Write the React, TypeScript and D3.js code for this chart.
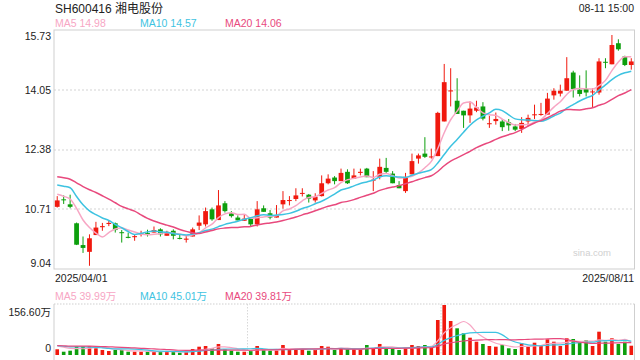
import React from 'react';
import * as d3 from 'd3';

const title = 'SH600416 湘电股份';
const stamp = '08-11 15:00';
const dateLabels = ['2025/04/01', '2025/08/11'];
const yTicks = [15.73, 14.05, 12.38, 10.71, 9.04];
const volMax = 156.6;
const priceMaLegend = [14.98, 14.57, 14.06];
const volMaLegend = [39.99, 45.01, 39.81];
const maPeriods = [5, 10, 20];
const maColors = ['#f7a6c4', '#3ec3e1', '#e8497d'];

const opens = [10.78, 10.99, 10.85, 10.32, 9.71, 9.52, 9.99, 10.21, 10.30, 10.32,
  10.07, 9.94, 9.93, 10.01, 10.05, 10.06, 10.15, 9.97, 10.11, 9.91,
  9.86, 9.95, 10.25, 10.29, 10.71, 10.41, 10.88, 10.60, 10.48, 10.39,
  10.48, 10.29, 10.74, 10.60, 10.48, 10.85, 10.95, 11.00, 11.15, 11.12,
  10.96, 11.08, 11.44, 11.60, 11.50, 11.76, 11.57, 11.73, 11.85, 11.52,
  11.62, 11.87, 11.71, 11.39, 11.22, 11.69, 12.13, 12.27, 12.17, 12.20,
  13.17, 14.01, 13.75, 13.47, 13.34, 13.47, 13.59, 13.10, 13.18, 13.17,
  13.15, 13.03, 12.96, 13.17, 13.35, 13.37, 13.36, 13.90, 13.95, 14.03,
  14.54, 14.06, 14.08, 13.99, 13.98, 14.84, 14.77, 15.36, 14.99, 14.75];
const highs = [11.08, 11.10, 11.12, 10.34, 9.95, 10.01, 10.36, 10.33, 10.41, 10.34,
  10.13, 10.06, 10.01, 10.11, 10.14, 10.23, 10.18, 10.11, 10.15, 10.01,
  9.97, 10.20, 10.54, 10.76, 10.76, 11.25, 10.94, 10.66, 10.54, 10.57,
  10.48, 10.94, 10.82, 10.69, 10.83, 11.22, 11.08, 11.30, 11.30, 11.14,
  11.16, 11.66, 11.69, 11.64, 11.85, 11.83, 11.85, 11.85, 11.87, 11.78,
  12.13, 12.15, 11.78, 11.50, 11.73, 12.27, 12.27, 12.73, 12.41, 13.44,
  14.78, 14.66, 14.38, 13.47, 13.73, 13.75, 13.71, 13.33, 13.42, 13.24,
  13.24, 13.10, 13.29, 13.36, 13.64, 13.69, 13.97, 14.10, 14.20, 14.97,
  14.59, 14.46, 14.60, 14.10, 14.94, 14.94, 15.59, 15.47, 15.01, 14.94];
const lows = [10.76, 10.86, 10.74, 9.71, 9.49, 9.13, 9.99, 10.11, 10.24, 10.06,
  9.78, 9.90, 9.83, 9.95, 9.95, 10.06, 9.95, 9.97, 9.87, 9.87,
  9.78, 9.95, 10.13, 10.23, 10.39, 10.41, 10.62, 10.48, 10.40, 10.39,
  10.23, 10.23, 10.64, 10.43, 10.48, 10.73, 10.82, 10.94, 11.07, 10.90,
  10.90, 11.07, 11.41, 11.41, 11.50, 11.42, 11.57, 11.66, 11.61, 11.22,
  11.55, 11.71, 11.44, 11.30, 11.17, 11.69, 11.99, 12.15, 12.13, 12.20,
  13.17, 13.59, 13.38, 12.99, 13.13, 13.43, 13.20, 12.99, 13.08, 12.90,
  12.91, 12.90, 12.85, 13.03, 13.24, 13.33, 13.36, 13.78, 13.87, 14.03,
  13.84, 13.87, 13.87, 13.57, 13.92, 14.66, 14.77, 15.15, 14.72, 14.62];
const closes = [10.96, 10.97, 10.78, 9.72, 9.63, 9.90, 10.20, 10.24, 10.33, 10.13,
  10.05, 9.91, 9.96, 10.04, 10.03, 10.13, 10.01, 10.08, 9.97, 9.90,
  9.89, 10.15, 10.34, 10.66, 10.43, 10.82, 10.66, 10.52, 10.40, 10.45,
  10.29, 10.71, 10.64, 10.48, 10.54, 10.97, 10.97, 11.10, 11.17, 11.01,
  11.06, 11.44, 11.57, 11.50, 11.73, 11.44, 11.66, 11.76, 11.61, 11.54,
  11.90, 11.76, 11.44, 11.30, 11.62, 12.06, 12.22, 12.18, 12.19, 13.41,
  14.27, 14.04, 13.38, 13.34, 13.53, 13.56, 13.25, 13.12, 13.24, 13.01,
  13.06, 12.94, 13.13, 13.27, 13.37, 13.38, 13.81, 14.03, 14.03, 14.38,
  14.08, 13.94, 13.98, 14.01, 14.85, 14.82, 15.31, 15.19, 14.75, 14.85];
// estimated closes of the 19 sessions before the visible window (for the MA lines)
const priorCloses = [11.50, 11.60, 11.70, 11.75, 11.70, 11.75, 12.05, 12.20, 12.15, 12.10,
  11.30, 11.22, 12.15, 11.98, 11.60, 11.25, 11.15, 11.05, 11.24];
// volumes in 万
const volumes = [17.9, 10.3, 13.5, 28.2, 28.2, 28.2, 21.0, 15.7, 12.5, 15.7,
  15.7, 10.3, 10.3, 10.3, 10.3, 10.3, 10.3, 10.3, 10.3, 7.2,
  10.3, 18.8, 26.0, 28.2, 21.0, 34.5, 17.9, 13.5, 10.3, 10.3,
  15.7, 28.2, 15.7, 13.5, 13.5, 31.3, 17.9, 17.9, 17.9, 13.5,
  17.9, 28.2, 26.0, 15.7, 18.8, 18.8, 18.8, 18.8, 31.3, 21.0,
  34.5, 21.0, 21.0, 15.7, 21.0, 31.3, 28.2, 31.3, 22.9, 109.6,
  156.6, 106.5, 83.6, 68.0, 54.2, 41.7, 34.5, 28.2, 26.0, 31.3,
  21.0, 18.8, 36.6, 26.0, 38.5, 28.2, 49.2, 41.7, 28.2, 52.3,
  50.1, 39.8, 46.0, 28.2, 73.0, 41.7, 52.3, 34.5, 41.7, 29.1];
const priorVolumes = [30, 31, 29, 32, 30, 28, 31, 30, 29, 31,
  30, 32, 30, 29, 31, 30, 32, 31, 30];

const RED = '#f0190e';
const GREEN = '#0d9f0d';
const FONT = "Arial, 'Liberation Sans', 'Noto Sans CJK SC', sans-serif";

function movingAvg(values: number[], prior: number[], n: number): (number | null)[] {
  const all = prior.concat(values);
  const off = prior.length;
  return values.map((_, i) => {
    const j = i + off;
    if (j < n - 1) return null;
    return d3.mean(all.slice(j - n + 1, j + 1)) as number;
  });
}

export default function App() {
  const W = 640, H = 360;
  const L = 54, R = 634.5;
  const mTop = 30, mBot = 269;
  const vTop = 305, vBot = 355;
  const n = closes.length;

  const x = d3.scaleBand<number>().domain(d3.range(n)).range([L, R]).padding(0);
  const step = x.step();
  const cx = (i: number) => (x(i) as number) + step / 2;
  const y = d3.scaleLinear().domain([9.04, 15.73]).range([mBot, mTop]);
  const yv = d3.scaleLinear().domain([0, volMax]).range([vBot, vTop]);

  const bodyW = step * 0.74;
  const barW = step * 0.56;

  const priceMAs = maPeriods.map(p => movingAvg(closes, priorCloses, p));
  const volMAs = maPeriods.map(p => movingAvg(volumes, priorVolumes, p));

  const lineP = d3.line<number | null>()
    .defined(d => d != null)
    .x((_, i) => cx(i))
    .y(d => y(d as number))
    .curve(d3.curveMonotoneX);
  const lineV = d3.line<number | null>()
    .defined(d => d != null)
    .x((_, i) => cx(i))
    .y(d => yv(d as number))
    .curve(d3.curveMonotoneX);

  const labelY = (v: number, i: number) => {
    if (i === 0) return mTop + 9.5;
    if (i === yTicks.length - 1) return mBot - 2.5;
    return y(v) + 3.7;
  };

  return (
    <svg width={W} height={H} style={{ position: 'absolute', left: 0, top: 0, background: '#fff' }}
      fontFamily={FONT}>
      <rect x={0} y={0} width={W} height={H} fill="#fff" />
      <text x={55} y={12.5} fontSize={12} fill="#222">{title}</text>
      <text x={634} y={12} fontSize={10.5} fill="#222" textAnchor="end">{stamp}</text>
      {maPeriods.map((p, k) => (
        <text key={'pl' + p} x={[55, 140, 225][k]} y={27} fontSize={10.5} fill={maColors[k]}>
          {`MA${p} ${priceMaLegend[k].toFixed(2)}`}
        </text>
      ))}

      {/* main panel grid */}
      {yTicks.slice(1, -1).map(v => (
        <line key={'g' + v} x1={L} x2={R} y1={Math.round(y(v))} y2={Math.round(y(v))}
          stroke="#e2e2e2" strokeWidth={1.6} strokeDasharray="2,2" />
      ))}
      <rect x={L} y={mTop} width={R - L} height={mBot - mTop} fill="none" stroke="#cfcfcf" strokeWidth={1} />
      {yTicks.map((v, i) => (
        <text key={'yt' + v} x={51} y={labelY(v, i)} fontSize={10.5} fill="#222" textAnchor="end">
          {v.toFixed(2)}
        </text>
      ))}
      <text x={611} y={256} fontSize={9.5} fill="#d0d0d0" textAnchor="end">sina.com</text>

      {/* candles */}
      {closes.map((c, i) => {
        const o = opens[i];
        const up = c >= o;
        const col = up ? RED : GREEN;
        const top = y(Math.max(o, c));
        const bot = y(Math.min(o, c));
        const h = Math.max(1, bot - top);
        return (
          <g key={'c' + i}>
            <line x1={cx(i)} x2={cx(i)} y1={y(highs[i])} y2={y(lows[i])} stroke={col} strokeWidth={1} />
            <rect x={cx(i) - bodyW / 2} y={top} width={bodyW} height={h} fill={col} />
          </g>
        );
      })}
      {priceMAs.map((d, k) => (
        <path key={'pm' + k} d={lineP(d) || ''} fill="none" stroke={maColors[k]} strokeWidth={1.5} />
      ))}

      {/* date labels */}
      <text x={55} y={282} fontSize={10.5} fill="#222">{dateLabels[0]}</text>
      <text x={634} y={282} fontSize={10.5} fill="#222" textAnchor="end">{dateLabels[1]}</text>

      {/* volume panel */}
      {maPeriods.map((p, k) => (
        <text key={'vl' + p} x={[55, 140, 225][k]} y={299.5} fontSize={10.5} fill={maColors[k]}>
          {`MA${p} ${volMaLegend[k].toFixed(2)}万`}
        </text>
      ))}
      <line x1={L} x2={R} y1={304} y2={304} stroke="#d0d0d0" strokeWidth={1.2} strokeDasharray="1.5,1.5" />
      {[1, 2].map(t => {
        const xx = L + (R - L) * t / 3;
        return <line key={'vg' + t} x1={xx} x2={xx} y1={304} y2={vBot} stroke="#d8d8d8"
          strokeWidth={1} strokeDasharray="1.5,1.5" />;
      })}
      <line x1={L} x2={L} y1={304} y2={H} stroke="#cfcfcf" strokeWidth={1} />
      <line x1={R} x2={R} y1={304} y2={H} stroke="#cfcfcf" strokeWidth={1} />
      <text x={51} y={315.5} fontSize={10.5} fill="#222" textAnchor="end">{`${volMax.toFixed(2)}万`}</text>
      <text x={51} y={351.5} fontSize={10.5} fill="#222" textAnchor="end">0</text>
      {volumes.map((v, i) => {
        const up = closes[i] >= opens[i];
        return (
          <rect key={'v' + i} x={cx(i) - barW / 2} y={yv(v)} width={barW} height={vBot - yv(v)}
            fill={up ? RED : GREEN} />
        );
      })}
      {volMAs.map((d, k) => (
        <path key={'vm' + k} d={lineV(d) || ''} fill="none" stroke={maColors[k]} strokeWidth={1.2} />
      ))}
    </svg>
  );
}
